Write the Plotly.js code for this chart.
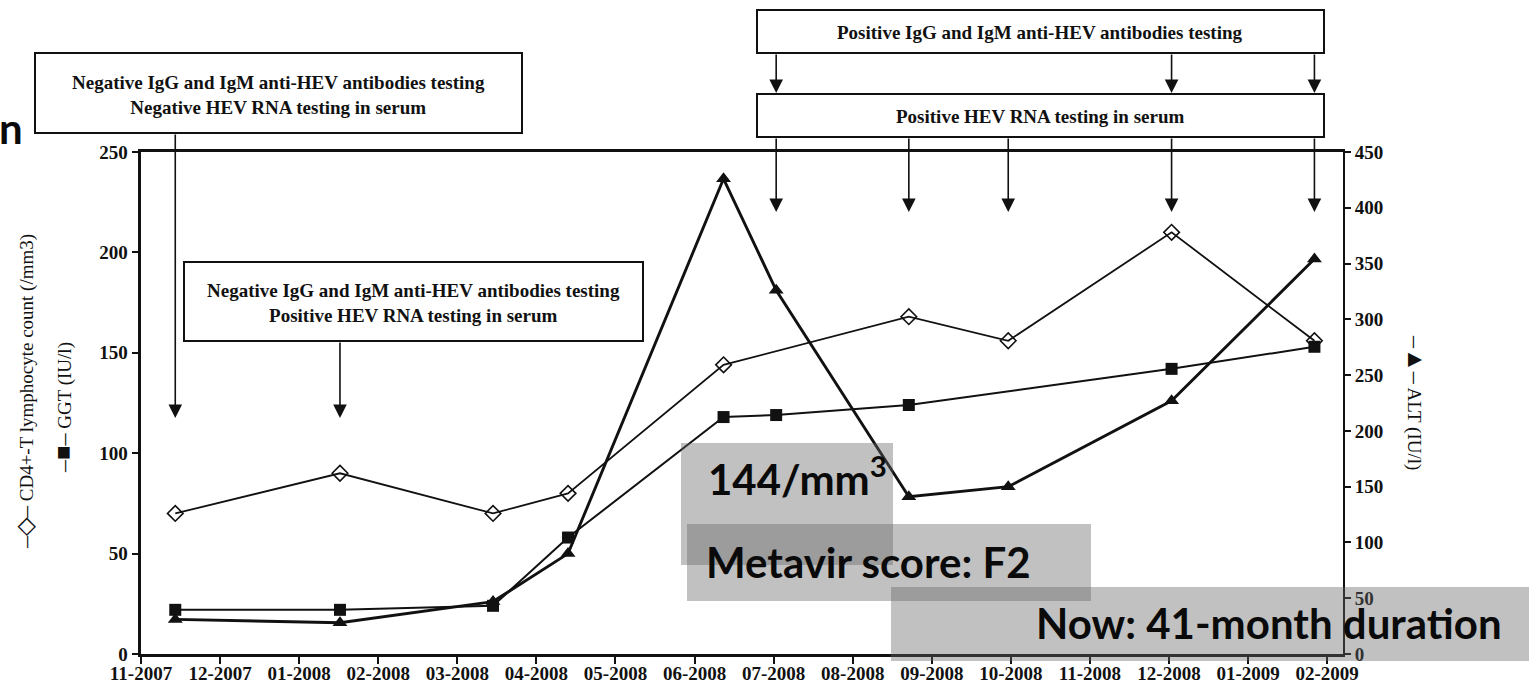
<!DOCTYPE html>
<html>
<head>
<meta charset="utf-8">
<script src="https://cdn.plot.ly/plotly-3.0.1.min.js"></script>
<style>
  html, body { margin: 0; padding: 0; background: #ffffff; }
  #chart { width: 1529px; height: 689px; }
</style>
</head>
<body>
<div id="chart"></div>
<script>
// Sampling dates of the patient follow-up
const sampleDates = ['2007-11-14', '2008-01-17', '2008-03-15', '2008-04-13', '2008-06-12',
                     '2008-07-02', '2008-08-23', '2008-09-30', '2008-12-02', '2009-01-27'];

// Month ticks on the time axis
const monthLabels = ['11-2007', '12-2007', '01-2008', '02-2008', '03-2008', '04-2008', '05-2008', '06-2008',
                     '07-2008', '08-2008', '09-2008', '10-2008', '11-2008', '12-2008', '01-2009', '02-2009'];

// Left axis series (null = not measured on that date)
const cd4Count = [70, 90, 70, 80, 144, null, 168, 156, 210, 156];   // CD4+-T lymphocytes (/mm3)
const ggt      = [22, 22, 24, 58, 118, 119, 124, null, 142, 153];   // GGT (IU/l)
// Right axis series
const alt      = [31, 28, 47, 90, 426, 326, 141, 150, 227, 354];    // ALT (IU/l)

// Serology / PCR results and the samples they refer to
const negNegSample = 0;                 // negative antibodies, negative RNA
const negPosSample = 1;                 // negative antibodies, positive RNA
const antibodyPositiveSamples = [5, 8, 9];
const rnaPositiveSamples = [5, 6, 7, 8, 9];

// Fractional month index counted from November 2007
function monthIndex(s) {
  const [y, m, d] = s.split('-').map(Number);
  const daysInMonth = new Date(y, m, 0).getDate();
  return (y - 2007) * 12 + (m - 11) + (d - 1) / daysInMonth;
}
const xs = sampleDates.map(monthIndex);

// Page geometry
const W = 1529, H = 689;
const M = { l: 141, r: 186, t: 152, b: 35, pad: 0 };
const PW = W - M.l - M.r, PH = H - M.t - M.b;
const px = v => (v - M.l) / PW;          // page pixel x -> paper
const py = v => (H - M.b - v) / PH;      // page pixel y -> paper

const serif = 'Liberation Serif, "Times New Roman", Times, serif';
const sans = 'Lato, "Open Sans", sans-serif';
const ink = '#111111';

const traces = [
  {
    name: 'CD4+-T lymphocyte count', x: xs, y: cd4Count, yaxis: 'y', connectgaps: true,
    mode: 'lines+markers', line: { color: ink, width: 1.8 },
    marker: { symbol: 'diamond-open', size: 12, color: ink, line: { width: 1.6, color: ink } }
  },
  {
    name: 'GGT', x: xs, y: ggt, yaxis: 'y', connectgaps: true,
    mode: 'lines+markers', line: { color: ink, width: 2 },
    marker: { symbol: 'square', size: 12, color: ink }
  },
  {
    name: 'ALT', x: xs, y: alt, yaxis: 'y2', connectgaps: true,
    mode: 'lines+markers', line: { color: ink, width: 2.9 },
    marker: { symbol: 'triangle-up', size: 13, color: ink }
  }
];

const tickFont = { family: serif, size: 19, color: ink, weight: 'bold' };

// Boxed test results above the curves
const boxes = [
  { x0: 35,  x1: 522,  y0: 53,  y1: 133 },
  { x0: 184, x1: 643,  y0: 262, y1: 341 },
  { x0: 757, x1: 1324, y0: 10,  y1: 53 },
  { x0: 757, x1: 1324, y0: 94,  y1: 137 }
];
const shapes = boxes.map(b => ({
  type: 'rect', xref: 'paper', yref: 'paper', layer: 'above',
  x0: px(b.x0), x1: px(b.x1), y0: py(b.y1), y1: py(b.y0),
  line: { color: ink, width: 2 }, fillcolor: '#ffffff'
}));

// Translucent grey call-out panels
const panels = [
  { x0: 681, x1: 893,  y0: 443, y1: 565 },
  { x0: 687, x1: 1091, y0: 524, y1: 601 },
  { x0: 891, x1: 1529, y0: 587, y1: 661 }
];
panels.forEach(p => shapes.push({
  type: 'rect', xref: 'paper', yref: 'paper', layer: 'above',
  x0: px(p.x0), x1: px(p.x1), y0: py(p.y1), y1: py(p.y0),
  line: { width: 0 }, fillcolor: 'rgba(100,100,100,0.4)'
}));

const annotations = [];

// Downward arrows from a box edge (tail) to a tip, both as page y pixels
function arrow(sampleIdx, tailY, tipY) {
  annotations.push({
    x: xs[sampleIdx], xref: 'x', y: py(tipY), yref: 'paper',
    ax: 0, ay: tailY - tipY, axref: 'pixel', ayref: 'pixel',
    text: '', showarrow: true, arrowhead: 2, arrowsize: 1.7, arrowwidth: 1.6,
    arrowcolor: ink, standoff: 0, startstandoff: 0, font: { size: 1 }
  });
}
arrow(negNegSample, 133, 418);
arrow(negPosSample, 341, 418);
antibodyPositiveSamples.forEach(i => arrow(i, 53, 93));
rnaPositiveSamples.forEach(i => arrow(i, 137, 212));

function boxText(text, cx, cy) {
  annotations.push({
    text: text, x: px(cx), y: py(cy), xref: 'paper', yref: 'paper',
    xanchor: 'center', yanchor: 'middle', showarrow: false, align: 'center',
    font: { family: serif, size: 19, color: ink, weight: 'bold' }
  });
}
boxText('Negative IgG and IgM anti-HEV antibodies testing<br>Negative HEV RNA testing in serum', 278.5, 95);
boxText('Negative IgG and IgM anti-HEV antibodies testing<br>Positive HEV RNA testing in serum', 413.5, 303);
boxText('Positive IgG and IgM anti-HEV antibodies testing', 1040, 32);
boxText('Positive HEV RNA testing in serum', 1040, 116);

function panelText(text, left, cy) {
  annotations.push({
    text: text, x: px(left), y: py(cy), xref: 'paper', yref: 'paper',
    xanchor: 'left', yanchor: 'middle', showarrow: false, align: 'left',
    font: { family: sans, size: 42, color: '#0a0a0a', weight: 'bold' }
  });
}
panelText('144/mm<sup>3</sup>', 706, 476);
panelText('Metavir score: F2', 704, 562);
panelText('Now: 41-month duration', 1034, 623);

// Fragment of the slide heading at the left edge
annotations.push({
  text: 'n', x: px(25), y: py(128), xref: 'paper', yref: 'paper',
  xanchor: 'right', yanchor: 'middle', showarrow: false,
  font: { family: sans, size: 42, color: '#0a0a0a', weight: 'bold' }
});

// Axis titles with their series symbols
function axisTitle(symbol, text, cx, cy, angle) {
  annotations.push({
    text: '<span style="font-size:24px">' + symbol + '</span> ' + text,
    x: px(cx), y: py(cy), xref: 'paper', yref: 'paper',
    xanchor: 'center', yanchor: 'middle', showarrow: false, textangle: angle,
    font: { family: serif, size: 19, color: ink }
  });
}
axisTitle('–◇–', 'CD4+-T lymphocyte count (/mm3)', 25, 392, -90);
axisTitle('–■–', 'GGT (IU/l)', 63, 408, -90);
axisTitle('–▲–', 'ALT (IU/l)', 1416, 402, 90);

const layout = {
  width: W, height: H, margin: M,
  paper_bgcolor: '#ffffff', plot_bgcolor: '#ffffff',
  showlegend: false,
  xaxis: {
    range: [0, 15.2], tickvals: monthLabels.map((_, i) => i), ticktext: monthLabels,
    showgrid: false, zeroline: false, showline: true, linewidth: 3, linecolor: ink, mirror: true,
    ticks: 'outside', ticklen: 7, tickwidth: 2, tickcolor: ink, tickfont: tickFont,
    ticklabelstandoff: -7
  },
  yaxis: {
    range: [0, 250], dtick: 50, showgrid: false, zeroline: false,
    showline: true, linewidth: 3.5, linecolor: ink,
    ticks: 'outside', ticklen: 6, tickwidth: 2, tickcolor: ink, tickfont: tickFont
  },
  yaxis2: {
    range: [0, 450], dtick: 50, overlaying: 'y', side: 'right', showgrid: false, zeroline: false,
    showline: true, linewidth: 2, linecolor: ink,
    ticks: 'outside', ticklen: 6, tickwidth: 2, tickcolor: ink, tickfont: tickFont
  },
  shapes: shapes,
  annotations: annotations
};

Plotly.newPlot('chart', traces, layout, { staticPlot: true, displayModeBar: false });
</script>
</body>
</html>
